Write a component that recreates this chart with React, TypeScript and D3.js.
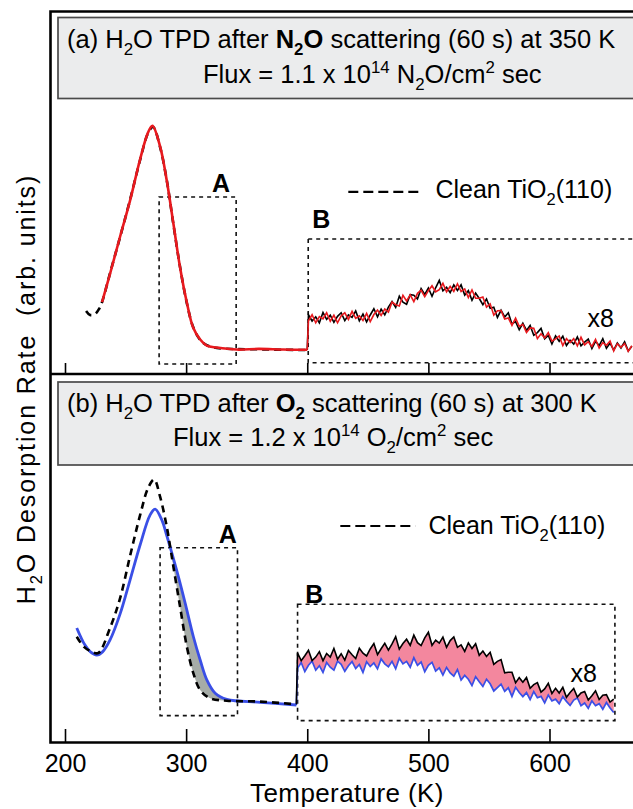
import { useEffect, useRef } from 'react';
import * as d3 from 'd3';

type Pt = [number, number];

const xTicks = [200, 300, 400, 500, 600];

// (a) main desorption peak, [temperature K, signal]
const cleanA: Pt[] = [
  [217.4, 17.5], [220.7, 15.7], [224.8, 16.1], [228.1, 18.4], [230.6, 21.5], [237.2, 34.5],
  [245.5, 50.7], [253.7, 67.3], [262, 85.2], [268.6, 97.3], [272.7, 100], [278.5, 91],
  [284, 76.2], [289.3, 57], [295, 37.2], [300.6, 21], [305.8, 10.3], [311.6, 4.5],
  [317, 2.2], [325.4, 0.9], [341.9, 0.4], [360, 0.3], [380, 0.1], [400, 0],
];
const n2oA: Pt[] = [
  [230.6, 21.5], [237.2, 34.2], [245.5, 50.9], [253.7, 67.0], [262, 85.5], [268.6, 97.6],
  [272.2, 100.5], [278.5, 91.3], [284, 76.0], [289.3, 57.4], [295, 37.0], [300.6, 21.3],
  [305.8, 10.1], [311.6, 4.7], [317, 2.0], [325.4, 1.1], [341.9, 0.2], [360, 0.5],
  [380, 0.2], [400, 0.1],
];

// (a) region B (x8), one reading every 3 K from 401 K
const bTempA = d3.range(401, 669, 3);
const bCleanA = [
  15.8, 13.0, 14.9, 12.2, 16.8, 13.7, 15.6, 12.4, 15.1, 16.7,
  13.2, 15.7, 14.6, 17.5, 13.1, 16.1, 12.6, 15.7, 18.5, 14.9,
  18.3, 15.8, 19.2, 21.7, 19.1, 24.1, 21.4, 20.5, 24.8, 24.6,
  22.9, 27.5, 24.9, 27.8, 24.1, 27.9, 31.2, 26.5, 28.1, 25.7,
  29.2, 26.7, 29.2, 24.6, 26.6, 22.3, 25.5, 23.1, 20.3, 22.9,
  18.7, 19.2, 14.6, 17.8, 14.8, 16.7, 11.7, 12.7, 9.1, 12.0,
  8.8, 11.0, 6.6, 7.8, 9.7, 5.0, 6.5, 2.7, 6.3, 3.9,
  6.2, 2.0, 4.4, 2.6, 5.9, 1.9, 3.5, 4.9, 0.7, 3.9,
  2.0, 5.1, 0.8, 3.1, 0.0, 3.1, 0.9, 3.7, -0.4, 1.7,
];
const bN2oA = [
  13.1, 15.8, 12.2, 15.0, 14.0, 16.7, 12.9, 15.6, 12.2, 15.3,
  16.7, 13.7, 17.3, 14.2, 15.3, 13.2, 16.4, 12.7, 15.9, 17.9,
  15.5, 18.4, 17.0, 21.5, 20.3, 19.7, 24.5, 22.0, 24.7, 21.7,
  25.4, 26.8, 23.9, 26.6, 28.8, 26.1, 27.1, 29.9, 26.1, 28.5,
  26.3, 29.7, 26.2, 27.4, 23.5, 26.9, 23.2, 23.2, 23.8, 19.2,
  20.7, 15.6, 17.6, 17.7, 13.9, 14.4, 11.0, 14.3, 10.6, 11.5,
  7.9, 9.9, 9.8, 5.1, 7.3, 5.4, 7.8, 4.0, 5.0, 6.3,
  2.0, 5.1, 3.3, 5.1, 1.9, 5.7, 2.3, 3.7, 1.6, 4.8,
  0.9, 3.3, 2.1, 4.0, -0.4, 2.8, 1.2, 2.9, -0.6, 1.9,
];

// (b) main desorption peak
const cleanB: Pt[] = [
  [209.7, 30.2], [215.7, 25.7], [222.3, 23.5], [227.5, 23.0], [237.2, 34.1], [245.5, 47.3],
  [253.7, 65.9], [262, 84], [268.6, 96], [273.6, 99.8], [278.5, 92.2], [284, 78.9],
  [287, 69.5], [289.5, 61.2], [295, 43.5], [300.6, 25.8], [306, 14], [311.6, 6.6],
  [319.8, 3], [333.6, 1.9], [361.2, 1.5], [391, 0.3],
];
const o2B: Pt[] = [
  [209.7, 34.1], [216.5, 26.5], [221, 23.5], [226.2, 22.1], [231, 23.5], [237.2, 28.8],
  [245.5, 40.3], [253.7, 55.3], [262, 70.8], [270.2, 84], [274.4, 86.7], [279.9, 81.9],
  [284, 75.0], [287, 69.5], [293.6, 56.8], [299.2, 45.1], [306, 30.2], [311.6, 19.9],
  [317.1, 11.1], [324, 5.2], [333.6, 2.5], [361.2, 1.2], [391, 0],
];

// (b) region B (x8), one reading every 3 K from 392 K
const bTempB = d3.range(392, 654, 3);
const bCleanB = [
  23.0, 19.6, 21.8, 24.2, 19.7, 21.2, 23.6, 19.6, 22.8, 21.2,
  25.0, 20.3, 22.7, 19.9, 24.1, 22.2, 20.6, 25.1, 22.9, 21.7,
  24.8, 27.2, 22.3, 24.9, 27.3, 24.3, 27.0, 30.2, 24.7, 27.2,
  29.1, 26.4, 30.9, 27.6, 26.3, 29.7, 32.2, 26.4, 28.7, 27.4,
  30.0, 25.5, 28.5, 30.1, 25.5, 26.6, 23.7, 27.5, 25.0, 27.1,
  22.0, 23.9, 21.5, 23.3, 18.0, 19.3, 20.1, 14.2, 14.5, 14.5,
  9.8, 12.1, 10.1, 12.2, 7.4, 9.0, 9.9, 5.7, 7.1, 9.6,
  5.1, 7.4, 5.3, 7.8, 3.4, 5.5, 7.3, 3.5, 5.3, 6.0,
  2.2, 4.1, 6.3, 2.4, 4.3, 4.6, 1.3, 2.6,
];
const bO2B = [
  16.2, 18.8, 14.8, 17.6, 19.4, 15.4, 17.4, 14.4, 18.8, 16.7,
  15.4, 19.4, 18.0, 14.9, 17.4, 19.2, 16.1, 17.9, 14.4, 19.1,
  17.0, 18.6, 16.0, 20.4, 18.2, 16.9, 19.3, 16.0, 20.7, 18.2,
  19.3, 16.7, 20.9, 17.5, 19.0, 14.7, 17.6, 18.9, 15.0, 16.4,
  13.2, 16.6, 14.2, 12.8, 15.7, 11.1, 13.1, 11.4, 8.6, 12.5,
  10.3, 8.2, 11.4, 9.4, 6.2, 7.7, 9.2, 6.0, 7.6, 3.8,
  7.8, 5.5, 3.7, 5.5, 2.4, 5.9, 3.2, 3.8, 0.9, 4.4,
  1.8, 2.6, 0.6, 3.7, 1.6, -0.2, 2.2, 3.1, -0.3, 0.9,
  -1.5, 1.8, -0.3, 0.6, -1.9, 1.1, -1.3, -3.3,
];

const FONT = '"Liberation Sans", Arial, Helvetica, sans-serif';
const RED = '#e8191e';
const BLUE = '#3a4fe6';
const PINK = '#f3879e';
const GREY = '#a6aca7';

type Part = [string, string];

// text with bold / sub / superscript pieces
function rich(parent: any, x: number, y: number, parts: Part[], size: number, anchor = 'start') {
  const t = parent.append('text')
    .attr('x', x)
    .attr('y', y)
    .attr('font-size', size)
    .attr('text-anchor', anchor)
    .style('white-space', 'pre');
  let shift = 0;
  parts.forEach(([s, k]) => {
    const target = k.includes('s') ? 0.28 * size : k.includes('S') ? -0.4 * size : 0;
    const ts = t.append('tspan').attr('dy', target - shift).text(s);
    shift = target;
    if (k.includes('s') || k.includes('S')) ts.attr('font-size', size * 0.66);
    if (k.includes('b')) ts.attr('font-weight', 'bold');
  });
  return t;
}

export default function App() {
  const svgRef = useRef<SVGSVGElement>(null);

  useEffect(() => {
    if (!svgRef.current) return;
    const svg = d3.select(svgRef.current);
    svg.selectAll('*').remove();

    const x = d3.scaleLinear().domain([200, 600]).range([65, 549.5]);
    const yA = d3.scaleLinear().domain([0, 100]).range([350, 127]);
    const yB = d3.scaleLinear().domain([0, 100]).range([705, 479]);

    const panels = [
      {
        y: yA,
        head: [17.5, 98.5],
        line1: [['(a) H', ''], ['2', 's'], ['O TPD after ', ''], ['N', 'b'], ['2', 'bs'], ['O', 'b'],
          [' scattering (60 s) at 350 K', '']] as Part[],
        line2: [['Flux = 1.1 x 10', ''], ['14', 'S'], [' N', ''], ['2', 's'], ['O/cm', ''], ['2', 'S'], [' sec', '']] as Part[],
        l1y: 48, l2x: 203, l2y: 83,
        boxA: [277.7, 341.3, 68.6, -6.3],
        boxB: [400.8, 690, 49.8, -5.7],
        labA: [328.9, 70.9], labB: [404.1, 54.7], labX8: [631.4, 10.3],
        leg: [433.9, 491.7, 70.9, 505.8, 68.2],
        clean: cleanA, main: n2oA, color: RED,
        bT: bTempA, bClean: bCleanA, bMain: bN2oA,
      },
      {
        y: yB,
        head: [382, 465],
        line1: [['(b) H', ''], ['2', 's'], ['O TPD after ', ''], ['O', 'b'], ['2', 'bs'],
          [' scattering (60 s) at 300 K', '']] as Part[],
        line2: [['Flux = 1.2 x 10', ''], ['14', 'S'], [' O', ''], ['2', 's'], ['/cm', ''], ['2', 'S'], [' sec', '']] as Part[],
        l1y: 412, l2x: 173, l2y: 446,
        boxA: [278.5, 342.4, 69.6, -4.7],
        boxB: [392, 654, 44.6, -6.9],
        labA: [334.3, 71.7], labB: [398.3, 45.1], labX8: [617.4, 10.2],
        leg: [427.3, 489.3, 79.2, 500, 75.7],
        clean: cleanB, main: o2B, color: BLUE,
        bT: bTempB, bClean: bCleanB, bMain: bO2B,
      },
    ];

    const root = svg.append('g').attr('font-family', FONT).attr('fill', '#000');

    panels.forEach((p, pi) => {
      const y = p.y;
      const g = root.append('g');

      // header box
      g.append('rect')
        .attr('x', 58).attr('y', p.head[0])
        .attr('width', 700).attr('height', p.head[1] - p.head[0])
        .attr('fill', '#ebeced').attr('stroke', '#4a4a4a').attr('stroke-width', 1.7);
      rich(g, 67, p.l1y, p.line1, 25.5);
      rich(g, p.l2x, p.l2y, p.line2, 25.5);

      // dotted boxes A and B
      [p.boxA, p.boxB].forEach(([t0, t1, u0, u1]) => {
        g.append('rect')
          .attr('x', x(t0)).attr('y', y(u0))
          .attr('width', x(t1) - x(t0)).attr('height', y(u1) - y(u0))
          .attr('fill', 'none').attr('stroke', '#111')
          .attr('stroke-width', 1.6).attr('stroke-dasharray', '4,4');
      });

      g.append('text').attr('x', x(p.labA[0])).attr('y', y(p.labA[1]))
        .attr('font-size', 25).attr('font-weight', 'bold').attr('text-anchor', 'middle').text('A');
      g.append('text').attr('x', x(p.labB[0])).attr('y', y(p.labB[1]))
        .attr('font-size', 25).attr('font-weight', 'bold').text('B');
      g.append('text').attr('x', x(p.labX8[0])).attr('y', y(p.labX8[1]))
        .attr('font-size', 25).text('x8');

      // legend
      const [lt0, lt1, lu, tt, tu] = p.leg;
      g.append('line')
        .attr('x1', x(lt0)).attr('x2', x(lt1)).attr('y1', y(lu)).attr('y2', y(lu))
        .attr('stroke', '#000').attr('stroke-width', 2.2).attr('stroke-dasharray', '10,5');
      rich(g, x(tt), y(tu), [['Clean TiO', ''], ['2', 's'], ['(110)', '']], 25);

      const smooth = d3.line<Pt>()
        .x(d => x(d[0]))
        .y(d => y(d[1]))
        .curve(d3.curveCatmullRom.alpha(0.5));

      const bPts = (vals: number[]): Pt[] => p.bT.map((t, i) => [t, vals[i]] as Pt);
      const jagged = d3.line<Pt>().x(d => x(d[0])).y(d => y(d[1]));

      // shaded differences
      if (pi === 1) {
        const inA = (d: Pt) => d[0] >= 287 && d[0] <= 334;
        const upper = smooth(p.clean.filter(inA)) as string;
        const lower = (smooth(p.main.filter(inA).slice().reverse()) as string).replace(/^M/, 'L');
        g.append('path').attr('d', upper + lower + 'Z').attr('fill', GREY);

        const area = d3.area<number>()
          .x((_, i) => x(p.bT[i]))
          .y0((_, i) => y(p.bMain[i]))
          .y1((_, i) => y(p.bClean[i]));
        g.append('path').attr('d', area(p.bClean) as string).attr('fill', PINK);
      }

      const lastClean = p.clean[p.clean.length - 1];
      const lastMain = p.main[p.main.length - 1];

      if (pi === 0) {
        g.append('path').attr('d', smooth(p.clean) as string)
          .attr('fill', 'none').attr('stroke', '#000').attr('stroke-width', 2.6).attr('stroke-dasharray', '7,5');
        g.append('path').attr('d', jagged([lastClean, ...bPts(p.bClean)]) as string)
          .attr('fill', 'none').attr('stroke', '#000').attr('stroke-width', 1.6);
        g.append('path').attr('d', smooth(p.main) as string)
          .attr('fill', 'none').attr('stroke', p.color).attr('stroke-width', 2.6);
        g.append('path').attr('d', jagged([lastMain, ...bPts(p.bMain)]) as string)
          .attr('fill', 'none').attr('stroke', p.color).attr('stroke-width', 1.6);
      } else {
        g.append('path').attr('d', smooth(p.main) as string)
          .attr('fill', 'none').attr('stroke', p.color).attr('stroke-width', 2.8);
        g.append('path').attr('d', jagged([lastMain, ...bPts(p.bMain)]) as string)
          .attr('fill', 'none').attr('stroke', p.color).attr('stroke-width', 1.7);
        g.append('path').attr('d', jagged([lastClean, ...bPts(p.bClean)]) as string)
          .attr('fill', 'none').attr('stroke', '#000').attr('stroke-width', 1.6);
        g.append('path').attr('d', smooth(p.clean) as string)
          .attr('fill', 'none').attr('stroke', '#000').attr('stroke-width', 2.6).attr('stroke-dasharray', '7,5');
      }
    });

    // ticks on the divider and on the bottom axis
    const topAxis = root.append('g')
      .attr('transform', 'translate(0,374)')
      .call(d3.axisBottom(x).tickValues(xTicks).tickSizeInner(-11).tickSizeOuter(0).tickFormat(() => ''));
    const bottomAxis = root.append('g')
      .attr('transform', 'translate(0,743)')
      .call(d3.axisBottom(x).tickValues(xTicks).tickSizeInner(-14).tickSizeOuter(0).tickPadding(11));
    [topAxis, bottomAxis].forEach(a => {
      a.select('.domain').remove();
      a.selectAll('line').attr('stroke', '#000').attr('stroke-width', 1.6);
    });
    bottomAxis.selectAll('text')
      .attr('font-size', 25).attr('font-family', FONT).attr('fill', '#000');

    // frame
    root.append('path')
      .attr('d', 'M700,11.5H50.5V742.5H700')
      .attr('fill', 'none').attr('stroke', '#000').attr('stroke-width', 2.6);
    root.append('line')
      .attr('x1', 50).attr('x2', 700).attr('y1', 374).attr('y2', 374)
      .attr('stroke', '#000').attr('stroke-width', 2.6);

    // axis titles
    root.append('text')
      .attr('x', 347).attr('y', 802).attr('font-size', 26).attr('text-anchor', 'middle')
      .attr('letter-spacing', 0.4)
      .text('Temperature (K)');
    rich(root, 0, 0, [['H', ''], ['2', 's'], ['O Desorption Rate  (arb. units)', '']], 25, 'middle')
      .attr('letter-spacing', 1.9)
      .attr('transform', 'translate(35,389) rotate(-90)');
  }, []);

  return (
    <svg
      ref={svgRef}
      width={633}
      height={809}
      style={{ position: 'absolute', left: 0, top: 0, background: '#fff' }}
    />
  );
}
